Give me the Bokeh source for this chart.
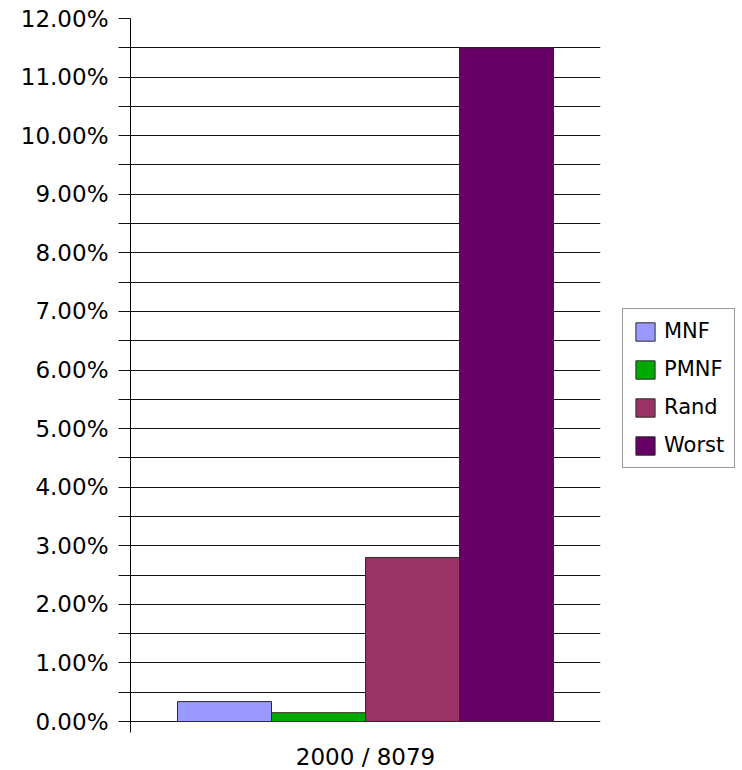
from bokeh.plotting import figure
from bokeh.models import (FactorRange, Range1d, FixedTicker, CustomJSTickFormatter,
                          Legend, LegendItem, ColumnDataSource)
from bokeh.transform import dodge
from bokeh.embed import file_html
from bokeh.resources import INLINE

# --- data -----------------------------------------------------------------
categories = ["2000 / 8079"]
series = ["MNF", "PMNF", "Rand", "Worst"]
values_pct = [0.34, 0.15, 2.80, 11.50]          # percent
colors = ["#9999FF", "#00AA00", "#993366", "#660066"]
y_ticks = [i * 0.5 for i in range(0, 25)]         # 0.0 .. 12.0 in 0.5 steps

FONT = "DejaVu Sans"

# plot frame geometry (pixels)
frame_left, frame_right = 130, 600
frame_top, zero_px, frame_bottom = 18, 721, 732
px_per_unit = (zero_px - frame_top) / 12.0
y_pad = (frame_bottom - zero_px) / px_per_unit

p = figure(frame_width=frame_right - frame_left, frame_height=frame_bottom - frame_top,
           output_backend="svg", toolbar_location=None,
           x_range=FactorRange(*categories), y_range=Range1d(-y_pad, 12.0),
           min_border_left=frame_left, min_border_right=742 - frame_right,
           min_border_top=frame_top, min_border_bottom=770 - frame_bottom)
p.outline_line_color = None
p.background_fill_color = "white"
p.border_fill_color = "white"

# grid every 0.5 %
p.xgrid.visible = False
p.ygrid.ticker = FixedTicker(ticks=y_ticks)
p.ygrid.grid_line_color = "#111111"
p.ygrid.grid_line_width = 1

# y axis: ticks every 0.5 %, labels only on whole percents
ya = p.yaxis[0]
ya.ticker = FixedTicker(ticks=y_ticks)
ya.formatter = CustomJSTickFormatter(code="""
    const k = Math.round(tick * 2);
    return (k % 2 === 0) ? tick.toFixed(2) + '%' : '';
""")
ya.major_tick_out = 12
ya.major_tick_in = 0
ya.minor_tick_out = 0
ya.minor_tick_in = 0
ya.major_tick_line_color = "#111111"
ya.axis_line_color = "black"
ya.major_label_standoff = 10
ya.major_label_text_font = FONT
ya.major_label_text_font_size = "23px"
ya.major_label_text_color = "black"

# x axis: category label only
xa = p.xaxis[0]
xa.axis_line_color = None
xa.major_tick_line_color = None
xa.major_tick_out = 0
xa.major_tick_in = 0
xa.major_label_standoff = 11
xa.major_label_text_font = FONT
xa.major_label_text_font_size = "23px"
xa.major_label_text_color = "black"

# bars, one per series, side by side within the category
n = len(series)
bar_w = 0.8 / n
items = []
for i, (name, val, col) in enumerate(zip(series, values_pct, colors)):
    off = -0.4 + bar_w * (i + 0.5)
    s = ColumnDataSource(dict(cat=categories, top=[val]))
    r = p.vbar(x=dodge("cat", off, range=p.x_range), top="top", bottom=0,
               width=bar_w, source=s, fill_color=col, line_color="#2b2b2b",
               line_width=1)
    items.append(LegendItem(label=name, renderers=[r]))

# legend in the right-hand panel (offsets relative to panel bottom-left)
legend = Legend(items=items, location=(622 - frame_right, frame_bottom - 468),
                label_text_font=FONT, label_text_font_size="21px",
                label_text_color="black",
                glyph_width=24, glyph_height=23, spacing=14,
                label_standoff=7, padding=10, margin=0,
                border_line_color="#333333", border_line_width=1,
                background_fill_color="white", background_fill_alpha=1.0)
p.add_layout(legend, "right")

open("out.html", "w").write(file_html(p, INLINE))
